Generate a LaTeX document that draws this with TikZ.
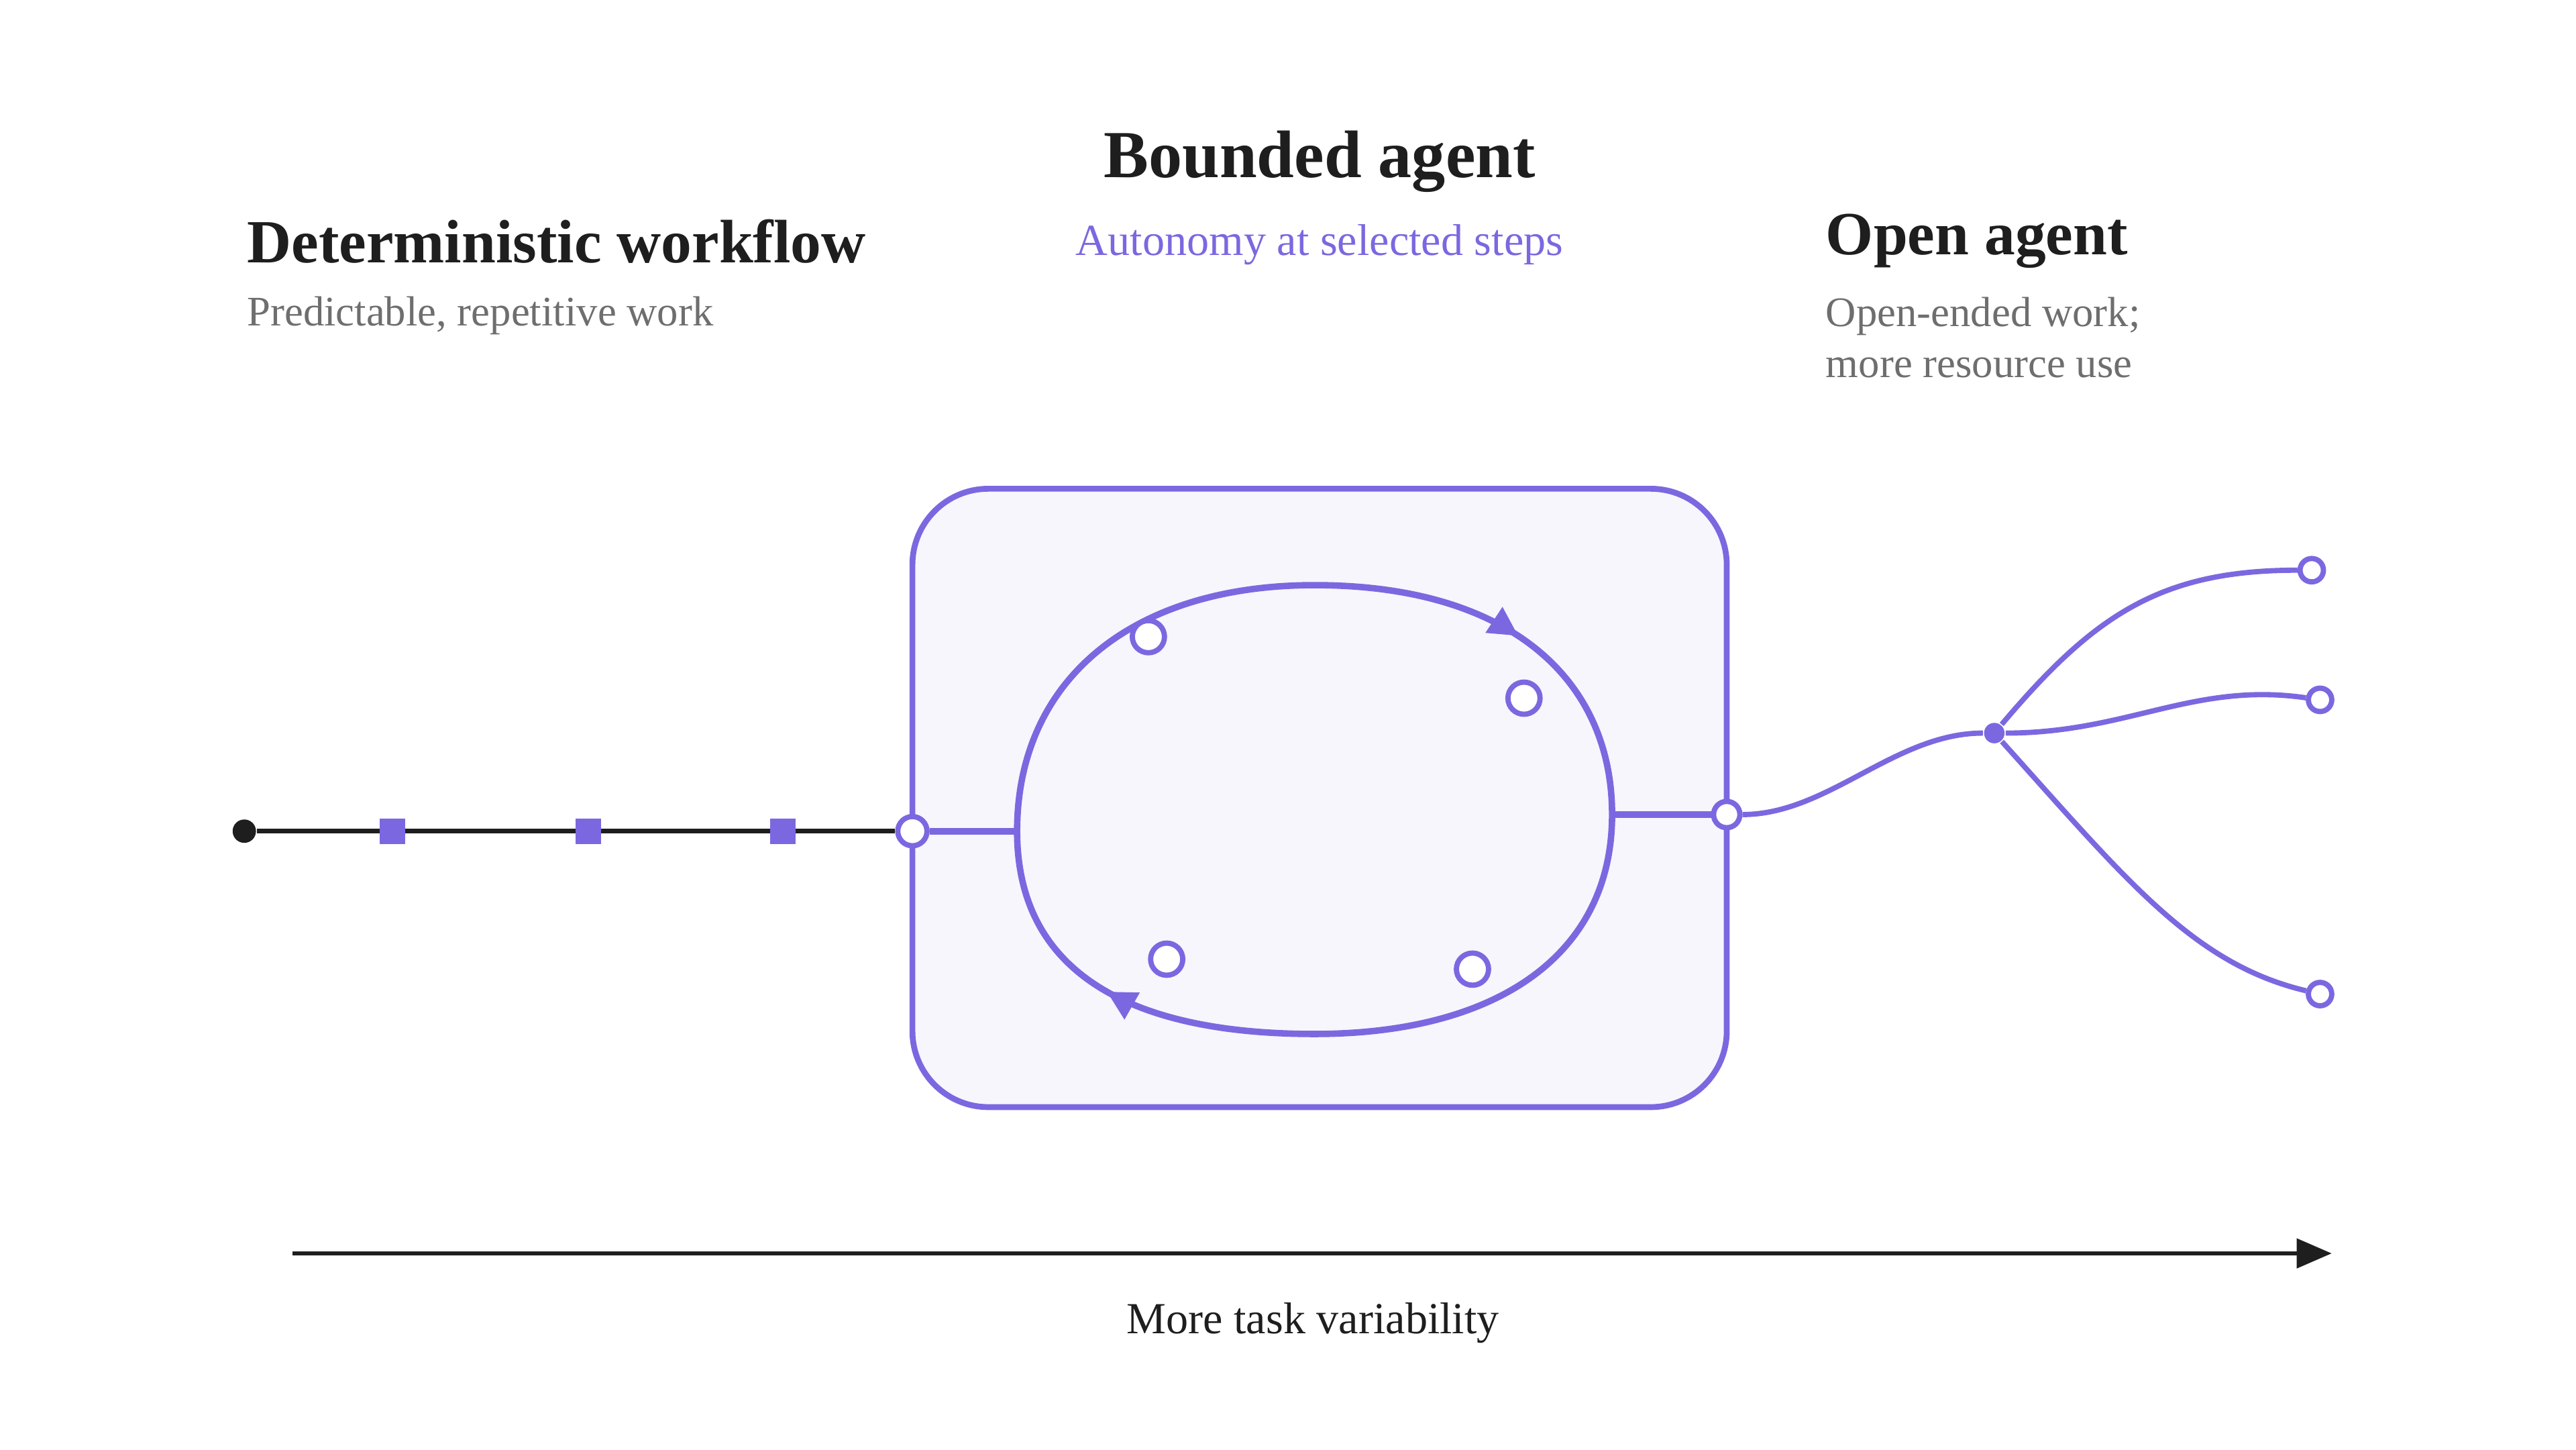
\documentclass[tikz,border=0pt]{standalone}
\usepackage{fontspec}
\setmainfont{Liberation Serif}
\usetikzlibrary{arrows.meta,decorations.markings}
\definecolor{agentpurple}{HTML}{7B68E0}
\definecolor{boxfill}{HTML}{F6F6FC}
\definecolor{textgrey}{HTML}{6E6E6E}
\definecolor{inkblack}{HTML}{1E1E1E}
\begin{document}
\begin{tikzpicture}[x=0.01cm,y=-0.01cm,
    plink/.style={draw=agentpurple,line width=1.1pt},
    openpt/.style={circle,draw=agentpurple,fill=white,line width=0.9pt,inner sep=0pt,minimum size=#1},
    workstep/.style={fill=agentpurple,inner sep=0pt,minimum size=4.4pt},
    heading/.style={anchor=west,font=\fontsize{10.5}{12}\selectfont\bfseries,text=inkblack},
    subtext/.style={anchor=west,font=\fontsize{7.2}{8.8}\selectfont,text=textgrey,align=left}]
          \useasboundingbox (0,0) rectangle (1550,872);

          % headings
          \node[font=\fontsize{11.5}{13}\selectfont\bfseries,text=inkblack] (bounded) at (794,97) {Bounded agent};
          \node[font=\fontsize{7.6}{9}\selectfont,text=agentpurple] (boundedsub) at (794,147) {Autonomy at selected steps};
          \node[heading,inner sep=0pt] (determ) at (148,145) {Deterministic workflow};
          \node[subtext,inner sep=0pt] (determsub) at (148,190) {Predictable, repetitive work};
          \node[heading,inner sep=0pt] (open) at (1098,145) {Open agent};
          \node[subtext,inner sep=0pt,anchor=north west] (opensub) at (1098,178) {Open-ended work;\\more resource use};

          % bounded box
          \filldraw[fill=boxfill,draw=agentpurple,line width=1pt,rounded corners=13pt] (549,294) rectangle (1039,666);

          % deterministic chain
          \node[circle,fill=inkblack,inner sep=0pt,minimum size=4pt] (start) at (147,500) {};
          \node[openpt=5pt] (entry) at (549,500) {};
          \draw[inkblack,line width=0.8pt] (start) -- (entry);
          \foreach \x/\n in {236/sa,354/sb,471/sc}
            \node[workstep] (\n) at (\x,500) {};

          % loop
          \coordinate (loopw) at (612,500);
          \coordinate (loope) at (970,490);
          \draw[plink] (entry) -- (loopw);
          \draw[plink,postaction={decorate},decoration={markings,
              mark=at position 0.385 with {\arrow{Triangle[length=5pt,width=5pt]}},
              mark=at position 0.885 with {\arrow{Triangle[length=5pt,width=5pt]}}}]
            (loopw) .. controls (612,410) and (680,352) .. (791,352)
            .. controls (910,352) and (970,410) .. (loope)
            .. controls (970,575) and (900,622) .. (791,622)
            .. controls (680,622) and (612,585) .. (loopw);
          \foreach \x/\y/\n in {691/383/la,917/420/lb,702/577/lc,886/583/ld}
            \node[openpt=5.5pt] (\n) at (\x,\y) {};

          % open agent branches
          \node[openpt=4.5pt] (exit) at (1039,490) {};
          \draw[plink] (loope) -- (exit);
          \node[circle,fill=agentpurple,inner sep=0pt,minimum size=3.5pt] (hub) at (1200,441) {};
          \draw[plink,line width=0.9pt] (exit) .. controls (1100,490) and (1140,441) .. (hub);
          \node[openpt=4pt] (ea) at (1391,343) {};
          \node[openpt=4pt] (eb) at (1396,421) {};
          \node[openpt=4pt] (ec) at (1396,598) {};
          \draw[plink,line width=0.9pt] (hub) .. controls (1260,370) and (1300,343) .. (ea);
          \draw[plink,line width=0.9pt] (hub) .. controls (1280,441) and (1320,410) .. (eb);
          \draw[plink,line width=0.9pt] (hub) .. controls (1280,530) and (1320,580) .. (ec);

          % axis
          \coordinate (axs) at (176,754);
          \coordinate (axe) at (1403,754);
          \draw[inkblack,line width=0.7pt,-{Triangle[length=6pt,width=5pt]}] (axs) -- (axe);
          \node[font=\fontsize{7.6}{9}\selectfont,text=inkblack] (axlabel) at (790,796) {More task variability};
\end{tikzpicture}
\end{document}
